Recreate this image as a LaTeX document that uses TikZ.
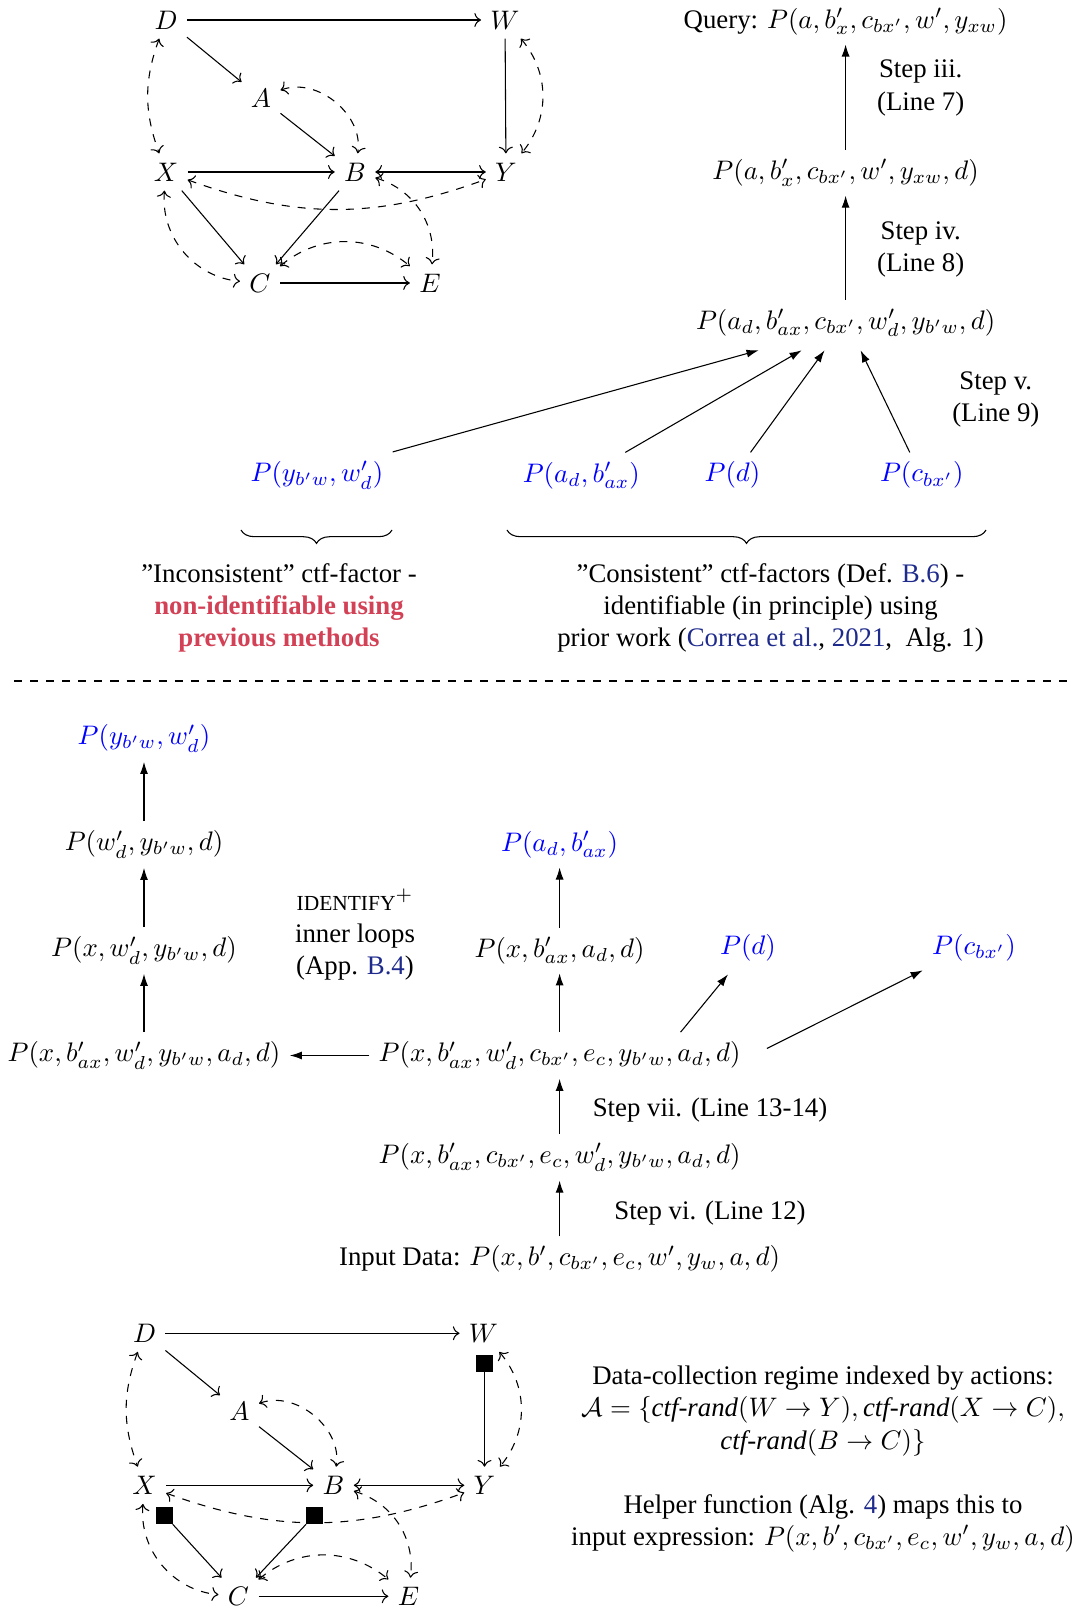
\documentclass[tikz,border=0pt]{standalone}
\usepackage{fontspec}
\setmainfont{Liberation Serif}
\usepackage{tikz}
\usetikzlibrary{arrows.meta, calc, decorations.pathreplacing}
\definecolor{crimson}{HTML}{D24155}
\definecolor{citeblue}{rgb}{0.12,0.17,0.55}

\begin{document}
\begin{tikzpicture}[x=0.3731pt, y=0.3731pt,
  flow/.style={-{Latex[length=4.5pt, width=3pt]}},
  bi/.style={<->, dashed},
  fac/.style={text=blue},
  note/.style={align=center},
  ctrl/.style={fill=black, inner sep=0pt, minimum size=6.3pt}]

\useasboundingbox (0,0) rectangle (1073,1613);

%=== TOP GRAPH (causal diagram) ===
\begin{scope}[shift={(166,1593)}]
\node (tD) at (0,0)      {$D$};
\node (tW) at (339,0)    {$W$};
\node (tA) at (95,-78)   {$A$};
\node (tX) at (0,-152)   {$X$};
\node (tB) at (189,-152) {$B$};
\node (tY) at (340,-152) {$Y$};
\node (tC) at (94,-263)  {$C$};
\node (tE) at (264,-263) {$E$};

\foreach \a/\b in {D/W, D/A, A/B, X/B, W/Y, X/C, B/C, C/E} {
  \draw[->] (t\a) -- (t\b);
}
\draw[<->] (tB) -- (tY);

% bidirected (confounded) pairs
\draw[bi] (tD) to[bend right=20] (tX);
\draw[bi] (tW) to[bend left=40]  (tY);
\draw[bi] (tA) to[bend left=60]  (tB);
\draw[bi] (tX) to[bend right=20] (tY);
\draw[bi] (tX) to[bend right=45] (tC);
\draw[bi] (tC) to[bend left=40]  (tE);
\draw[bi] (tB) to[bend left=40]  (tE);
\end{scope}

%=== TOP FLOW (query side) ===
\node (qry) at (845.6,1591.4) {Query: $P(a, b'_x, c_{bx'}, w', y_{xw})$};
\node (p3)  at (845.6,1440.2) {$P(a, b'_x, c_{bx'}, w', y_{xw}, d)$};
\node (p2)  at (845.6,1290)   {$P(a_d, b'_{ax}, c_{bx'}, w'_d, y_{b'w}, d)$};

\draw[flow] (p3) -- (qry);
\draw[flow] (p2) -- (p3);

\node[note] (s3) at (920.7,1525)   {Step iii.\\(Line 7)};
\node[note] (s4) at (920.7,1363.6) {Step iv.\\(Line 8)};
\node[note] (s5) at (995.8,1213.4) {Step v.\\(Line 9)};

%--- ctf-factors
\node[fac] (f1) at (316.9,1137.7) {$P(y_{b'w}, w'_d)$};
\node[fac] (f2) at (581.3,1137.7) {$P(a_d, b'_{ax})$};
\node[fac] (f3) at (732.5,1137.7) {$P(d)$};
\node[fac] (f4) at (921.8,1137.7) {$P(c_{bx'})$};

\draw[flow] (f1.north east) -- ($(p2.south)+(-87,-4)$);
\draw[flow] ($(f2.north)+(44,0)$) -- ($(p2.south)+(-44,-4)$);
\draw[flow] ($(f3.north)+(18,0)$) -- ($(p2.south)+(-21,-4)$);
\draw[flow] ($(f4.north)+(-12,0)$) -- ($(p2.south)+(15,-4)$);

%--- braces and captions
\draw[decorate, decoration={brace, mirror, amplitude=5pt}] (241,1083) -- (392,1083);
\draw[decorate, decoration={brace, mirror, amplitude=5pt}] (507,1083) -- (986,1083);

\node[note] (inc) at (279,1005) {”Inconsistent” ctf-factor -\\
  \textcolor{crimson}{\textbf{non-identifiable using}}\\
  \textcolor{crimson}{\textbf{previous methods}}};
\node[note] (con) at (770.5,1005) {”Consistent” ctf-factors (Def. \textcolor{citeblue}{B.6}) -\\
  identifiable (in principle) using\\
  prior work (\textcolor{citeblue}{Correa et al.}, \textcolor{citeblue}{2021},\ \ Alg. 1)};

%--- separator
\draw[dashed] (14,932) -- (1073,932);

%=== BOTTOM FLOW (data side) ===
\node[fac] (l4) at (144,874.4) {$P(y_{b'w}, w'_d)$};
\node (l3) at (144,768.4) {$P(w'_d, y_{b'w}, d)$};
\node (l2) at (144,662.5) {$P(x, w'_d, y_{b'w}, d)$};
\node (l1) at (144,557.5) {$P(x, b'_{ax}, w'_d, y_{b'w}, a_d, d)$};

\node (m1) at (559.6,557.5) {$P(x, b'_{ax}, w'_d, c_{bx'}, e_c, y_{b'w}, a_d, d)$};
\node (m2) at (559.6,662.5) {$P(x, b'_{ax}, a_d, d)$};
\node[fac] (m3) at (559.6,768.4) {$P(a_d, b'_{ax})$};
\node[fac] (pd) at (748,665.5) {$P(d)$};
\node[fac] (pc) at (974,665.5) {$P(c_{bx'})$};

\node (s2)  at (559.6,455.7) {$P(x, b'_{ax}, c_{bx'}, e_c, w'_d, y_{b'w}, a_d, d)$};
\node (inp) at (559.6,353.8) {Input Data: $P(x, b', c_{bx'}, e_c, w', y_w, a, d)$};

\draw[flow] (l1) -- (l2);
\draw[flow] (l2) -- (l3);
\draw[flow] (l3) -- (l4);
\draw[flow] (m1) -- (l1);
\draw[flow] (m1) -- (m2);
\draw[flow] (m2) -- (m3);
\draw[flow] ($(m1.north)+(121,0)$) -- ($(pd.south)+(-20,-4)$);
\draw[flow] ($(m1.east)+(17,7)$) -- (pc.south west);
\draw[flow] (s2) -- (m1);
\draw[flow] (inp) -- (s2);

\node[note] (idf) at (355,678) {{\footnotesize IDENTIFY}$^+$\\inner loops\\(App. \textcolor{citeblue}{B.4})};
\node (s7) at (710,503) {Step vii. (Line 13-14)};
\node (s6) at (710,400) {Step vi. (Line 12)};

%=== BOTTOM GRAPH (with randomised edges) ===
\begin{scope}[shift={(144.5,279.7)}]
\node (bD) at (0,0)      {$D$};
\node (bW) at (339,0)    {$W$};
\node (bA) at (95,-78)   {$A$};
\node (bX) at (0,-152)   {$X$};
\node (bB) at (189,-152) {$B$};
\node (bY) at (340,-152) {$Y$};
\node (bC) at (94,-263)  {$C$};
\node (bE) at (264,-263) {$E$};

% action markers on randomised edges
\node[ctrl] (qW) at (340,-30)  {};
\node[ctrl] (qX) at (20,-182)  {};
\node[ctrl] (qB) at (170,-182) {};

\foreach \a/\b in {D/W, D/A, A/B, X/B, C/E} {
  \draw[->] (b\a) -- (b\b);
}
\draw[<->] (bB) -- (bY);
\draw[->] (qW) -- (bY);
\draw[->] (qX) -- (bC);
\draw[->] (qB) -- (bC);

\draw[bi] (bD) to[bend right=20] (bX);
\draw[bi] (bW) to[bend left=40]  (bY);
\draw[bi] (bA) to[bend left=60]  (bB);
\draw[bi] (bX) to[bend right=20] (bY);
\draw[bi] (bX) to[bend right=45] (bC);
\draw[bi] (bC) to[bend left=40]  (bE);
\draw[bi] (bB) to[bend left=40]  (bE);
\end{scope}

%--- regime description
\node[note] (reg) at (823,202) {Data-collection regime indexed by actions:\\
  $\mathcal{A} = \{\textit{ctf-rand}(W \rightarrow Y), \textit{ctf-rand}(X \rightarrow C),$\\
  $\textit{ctf-rand}(B \rightarrow C)\}$};
\node[note] (hlp) at (823,90) {Helper function (Alg. \textcolor{citeblue}{4}) maps this to\\
  input expression: $P(x, b', c_{bx'}, e_c, w', y_w, a, d)$};

\end{tikzpicture}
\end{document}
